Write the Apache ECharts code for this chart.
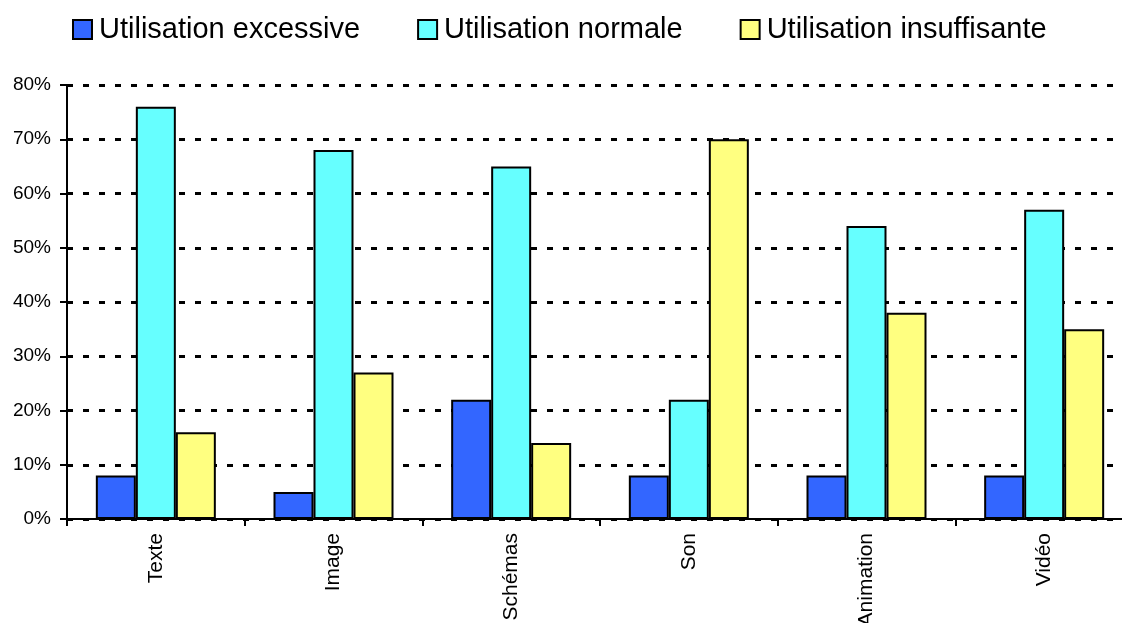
<!DOCTYPE html>
<html>
<head>
<meta charset="utf-8">
<script src="https://cdn.jsdelivr.net/npm/echarts@6/dist/echarts.min.js"></script>
<style>html,body{margin:0;padding:0;background:#fff}#c{width:1122px;height:623px}</style>
</head>
<body>
<div id="c"></div>
<script>
const categories = ['Texte', 'Image', 'Schémas', 'Son', 'Animation', 'Vidéo'];
const seriesNames = ['Utilisation excessive', 'Utilisation normale', 'Utilisation insuffisante'];
const excessive = [8, 5, 22, 8, 8, 8];
const normale = [76, 68, 65, 22, 54, 57];
const insuffisante = [16, 27, 14, 70, 38, 35];
const colors = ['#3366FF', '#66FFFF', '#FFFF80'];
const FONT = '"Liberation Sans", Arial, sans-serif';

const chart = echarts.init(document.getElementById('c'), null, {renderer: 'canvas'});
const values = [excessive, normale, insuffisante];
chart.setOption({
  animation: false,
  backgroundColor: '#fff',
  textStyle: {fontFamily: FONT},
  legend: {
    left: 72, top: 15, padding: 0,
    itemWidth: 19, itemHeight: 19, itemGap: 57,
    icon: 'rect',
    textStyle: {fontSize: 29, color: '#000', fontFamily: FONT, padding: [0, 0, 0, 2]},
    data: seriesNames
  },
  grid: {left: 67, width: 1066, top: 85, bottom: 104, containLabel: false, outerBoundsMode: 'none'},
  xAxis: {
    type: 'category',
    data: categories,
    axisLine: {lineStyle: {color: '#000', width: 2}},
    axisTick: {show: true, length: 7, lineStyle: {color: '#000', width: 2}, alignWithLabel: false},
    axisLabel: {rotate: 90, fontSize: 21, color: '#000', margin: 14, fontFamily: FONT}
  },
  yAxis: {
    type: 'value', min: 0, max: 80, interval: 10,
    axisLine: {show: true, lineStyle: {color: '#000', width: 2}},
    axisTick: {show: true, length: 7, lineStyle: {color: '#000', width: 2}},
    axisLabel: {formatter: '{value}%', fontSize: 19, color: '#000', margin: 16, fontFamily: FONT},
    splitLine: {show: true, lineStyle: {color: '#000', width: 3, type: [6, 10]}}
  },
  series: values.map((v, i) => ({
    name: seriesNames[i],
    type: 'bar',
    data: v,
    barWidth: 40,
    barGap: '0%',
    itemStyle: {color: colors[i], borderColor: '#000', borderWidth: 2}
  }))
});
</script>
</body>
</html>
